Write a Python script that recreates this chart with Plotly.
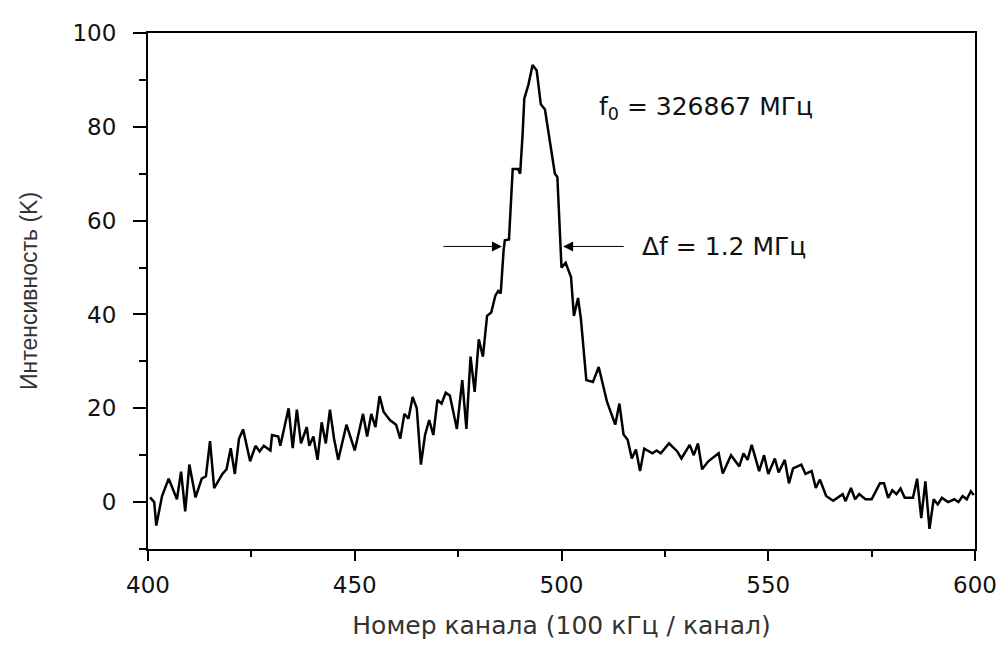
import plotly.graph_objects as go

# channel numbers and intensity (K)
channel = [400.5, 401.5, 402, 403.4, 405, 407, 408, 409, 410, 411.5, 413, 414, 415, 416, 418, 419,
           420, 421, 422, 423, 424.7, 426, 427, 428, 429.6, 430, 431.5, 432, 434, 435, 436, 437,
           438.4, 439, 440, 441, 442, 443, 444, 445, 446, 447, 448, 450, 451, 452, 453, 454, 455,
           456, 457, 458.5, 460, 461, 462, 463, 464, 465, 466, 467, 468, 469, 470, 471, 472, 473,
           474.7, 476, 477, 478, 479, 480, 481, 482, 483, 484, 484.7, 485.3, 486, 486.3, 487.3,
           487.7, 488.2, 489.5, 490, 490.6, 491, 492, 493, 494, 495, 496, 497, 498.4, 499, 499.6,
           500, 501, 502.3, 503, 504, 504.7, 505.3, 506, 507.6, 509, 511, 513, 514, 515, 516, 517,
           518, 519, 520, 522, 523, 524, 526, 528, 529, 531, 532, 533, 534, 535.5, 538, 539, 541,
           543, 544, 545, 546, 547.8, 549, 550, 551.6, 552.5, 554, 555, 556, 558, 559, 560.5,
           561.5, 562.5, 564, 565.7, 568, 568.7, 570, 571, 572, 573.5, 575, 577, 578, 579, 580,
           581, 582, 583, 585, 586, 587, 588, 589, 590, 591, 592, 593.5, 595, 596, 597, 598, 599,
           599.7]
intensity = [1, 0, -5, 1.3, 5, 0.6, 6.5, -2, 8, 1, 5, 5.5, 13, 3, 6, 7,
             11.5, 6, 13.5, 15.5, 8.7, 12, 10.8, 12, 11, 14.3, 14, 12, 20, 11.5, 19.7, 12.5,
             16, 12, 14, 9, 17, 12.5, 19.7, 13.5, 9, 12.5, 16.5, 11, 15, 18.8, 14, 18.8, 16,
             22.6, 19.2, 17.5, 16.5, 13.5, 18.8, 17.8, 22.4, 20, 8, 14.3, 17.5, 14.3, 21.8, 21, 23.3, 22.7,
             15.6, 26, 15.6, 31, 23.5, 34.7, 31, 39.7, 40.4, 44, 45, 44.5, 53.7, 55.8, 56,
             63.6, 71, 71, 70, 78.5, 86, 89, 93.2, 92, 84.8, 83.7, 77.8, 70, 69.3, 59.4,
             50, 51, 48, 39.7, 43.5, 39, 32.6, 26, 25.6, 28.8, 21.4, 16.5, 21, 14.4, 13.3, 9.3,
             11.2, 6.6, 11.4, 10.4, 11, 10.4, 12.5, 10.8, 9.3, 12.2, 10, 12.5, 7, 8.7, 10.4, 6.1, 10,
             7.6, 10.4, 9, 12.2, 6.6, 10, 6, 9.3, 6.3, 9, 4, 7.2, 8, 6, 6.6,
             3, 4.8, 1.3, 0.3, 1.7, 0.2, 3, 0.6, 1.7, 0.6, 0.6, 4, 4, 0.9, 2.5,
             1.7, 2.9, 0.9, 0.9, 5, -3.4, 4.4, -5.7, 0.6, -0.5, 0.9, 0, 0.6, 0, 1.3, 0.6, 2.3,
             1.5]

wide = "DejaVu Sans, sans-serif"          # horizontal text in the reference is stretched
narrow = "Liberation Sans, Arial, sans-serif"

fig = go.Figure()
fig.add_trace(go.Scatter(x=channel, y=intensity, mode="lines",
                         line=dict(color="black", width=2.5), showlegend=False))

# labels
fig.add_annotation(x=508.5, y=84, text="f<sub>0</sub> = 326867 МГц", showarrow=False,
                   xanchor="left", font=dict(size=25, color="#111", family=wide))
fig.add_annotation(x=519, y=54.5, text="Δf = 1.2 МГц", showarrow=False,
                   xanchor="left", font=dict(size=25, color="#111", family=wide))
# FWHM arrows
fig.add_annotation(x=485.6, y=54.5, ax=471.1, ay=54.5, axref="x", ayref="y", text="",
                   showarrow=True, arrowhead=2, arrowsize=2, arrowwidth=1, arrowcolor="black")
fig.add_annotation(x=500.4, y=54.5, ax=515.4, ay=54.5, axref="x", ayref="y", text="",
                   showarrow=True, arrowhead=2, arrowsize=2, arrowwidth=1, arrowcolor="black")

fig.update_xaxes(range=[400, 600], tickvals=[400, 450, 500, 550, 600],
                 ticks="outside", ticklen=10, tickwidth=2, tickcolor="black",
                 minor=dict(tickvals=[425, 475, 525, 575], ticks="outside", ticklen=6,
                            tickwidth=2, tickcolor="black"),
                 showline=True, linewidth=2, linecolor="black", mirror=True,
                 showgrid=False, zeroline=False, ticklabelstandoff=4,
                 tickfont=dict(size=23, color="#111", family=wide),
                 title=dict(text="Номер канала (100 кГц / канал)", standoff=20,
                            font=dict(size=25, color="#333", family=wide)))
fig.update_yaxes(range=[-10, 100], tickvals=[0, 20, 40, 60, 80, 100],
                 ticks="outside", ticklen=13, tickwidth=2, tickcolor="black",
                 minor=dict(tickvals=[-10, 10, 30, 50, 70, 90], ticks="outside", ticklen=7,
                            tickwidth=2, tickcolor="black"),
                 showline=True, linewidth=2, linecolor="black", mirror=True,
                 showgrid=False, zeroline=False, ticklabelstandoff=12,
                 tickfont=dict(size=23, color="#111", family=wide),
                 title=dict(text="Интенсивность (K)", standoff=28,
                            font=dict(size=23, color="#333", family=narrow)))

fig.update_layout(width=1008, height=661, plot_bgcolor="white", paper_bgcolor="white",
                  margin=dict(l=140, r=41, t=16, b=120))

fig.write_html("out.html")
